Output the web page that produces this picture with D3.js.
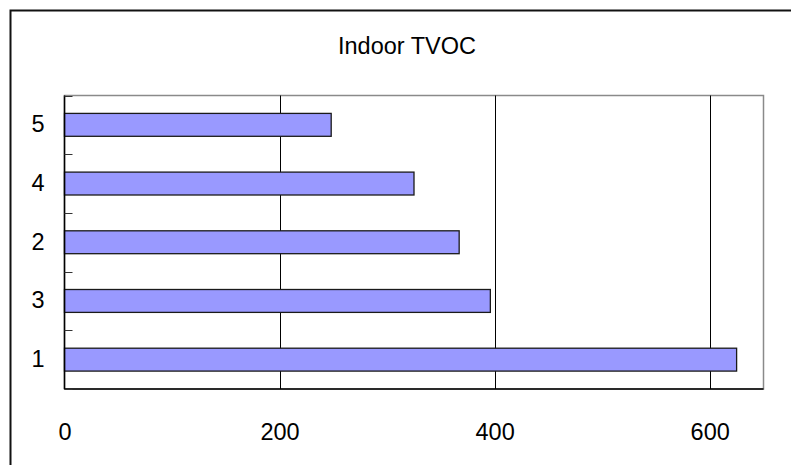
<!DOCTYPE html>
<html>
<head>
<meta charset="utf-8">
<script src="https://cdn.jsdelivr.net/npm/d3@7/dist/d3.min.js"></script>
<style>
  html, body { margin: 0; padding: 0; background: #fff; }
  svg { display: block; font-family: Arial, "Liberation Sans", sans-serif; }
</style>
</head>
<body>
<svg id="chart" width="791" height="465"></svg>
<script>
// Indoor TVOC readings per room, first entry sits at the bottom of the chart
const categories = ["1", "3", "2", "4", "5"];
const values = [625, 396, 367, 325, 248];
const xTicks = [0, 200, 400, 600];
const xMax = 650;
const title = "Indoor TVOC";

const svg = d3.select("#chart");
const W = 791, H = 465;
const plot = { left: 64.5, right: 763.5, top: 95.5, bottom: 389 };

// Outer chart frame
svg.append("rect")
  .attr("x", 10.5).attr("y", 10.5)
  .attr("width", W + 20).attr("height", H + 20)
  .attr("fill", "#fff").attr("stroke", "#111").attr("stroke-width", 2);

// Title
svg.append("text")
  .attr("x", 407).attr("y", 54)
  .attr("text-anchor", "middle")
  .attr("font-size", 23.5)
  .attr("fill", "#000")
  .text(title);

const x = d3.scaleLinear().domain([0, xMax]).range([plot.left, plot.right]);
const y = d3.scaleBand()
  .domain(categories.slice().reverse())
  .range([plot.top, plot.bottom])
  .paddingInner(0.61)
  .paddingOuter(0.305);

// Plot area background and outline (top/right in grey)
svg.append("rect")
  .attr("x", plot.left).attr("y", plot.top)
  .attr("width", plot.right - plot.left).attr("height", plot.bottom - plot.top)
  .attr("fill", "#fff").attr("stroke", "#8a8a8a").attr("stroke-width", 1.5);

// Vertical gridlines
svg.append("g")
  .selectAll("line")
  .data(xTicks.filter(d => d > 0))
  .join("line")
  .attr("x1", d => Math.round(x(d)) + 0.5).attr("x2", d => Math.round(x(d)) + 0.5)
  .attr("y1", plot.top).attr("y2", plot.bottom)
  .attr("stroke", "#000").attr("stroke-width", 1);

// Bars
svg.append("g")
  .selectAll("rect")
  .data(categories.map((c, i) => ({ c, v: values[i] })))
  .join("rect")
  .attr("x", x(0))
  .attr("y", d => y(d.c))
  .attr("width", d => x(d.v) - x(0))
  .attr("height", y.bandwidth())
  .attr("fill", "#9999ff")
  .attr("stroke", "#1a1a1a")
  .attr("stroke-width", 1.3);

// Value axis (bottom) — labels only, axis line drawn black
const xAxis = d3.axisBottom(x).tickValues(xTicks).tickSize(0).tickPadding(34);
const gx = svg.append("g")
  .attr("transform", `translate(0,${plot.bottom})`)
  .call(xAxis);
gx.select(".domain").remove();
gx.selectAll("text")
  .attr("font-size", 23.5)
  .attr("font-family", "Arial, 'Liberation Sans', sans-serif")
  .attr("fill", "#000");

svg.append("line")
  .attr("x1", plot.left).attr("x2", plot.right)
  .attr("y1", plot.bottom).attr("y2", plot.bottom)
  .attr("stroke", "#000").attr("stroke-width", 1.5);

// Category axis (left)
const yAxis = d3.axisLeft(y).tickSize(0).tickPadding(20);
const gy = svg.append("g")
  .attr("transform", `translate(${plot.left},0)`)
  .call(yAxis);
gy.select(".domain").remove();
gy.selectAll("text")
  .attr("font-size", 23.5)
  .attr("font-family", "Arial, 'Liberation Sans', sans-serif")
  .attr("fill", "#000");

svg.append("line")
  .attr("x1", plot.left).attr("x2", plot.left)
  .attr("y1", plot.top).attr("y2", plot.bottom)
  .attr("stroke", "#000").attr("stroke-width", 1.5);

// Inward tick marks at the category boundaries
const bounds = y.domain().map(c => y(c) - y.step() * y.paddingInner() / 2);
bounds.push(plot.bottom);
svg.append("g")
  .selectAll("line")
  .data(bounds)
  .join("line")
  .attr("x1", plot.left).attr("x2", plot.left + 8)
  .attr("y1", d => Math.round(d) + 0.5).attr("y2", d => Math.round(d) + 0.5)
  .attr("stroke", "#333").attr("stroke-width", 1);
</script>
</body>
</html>
